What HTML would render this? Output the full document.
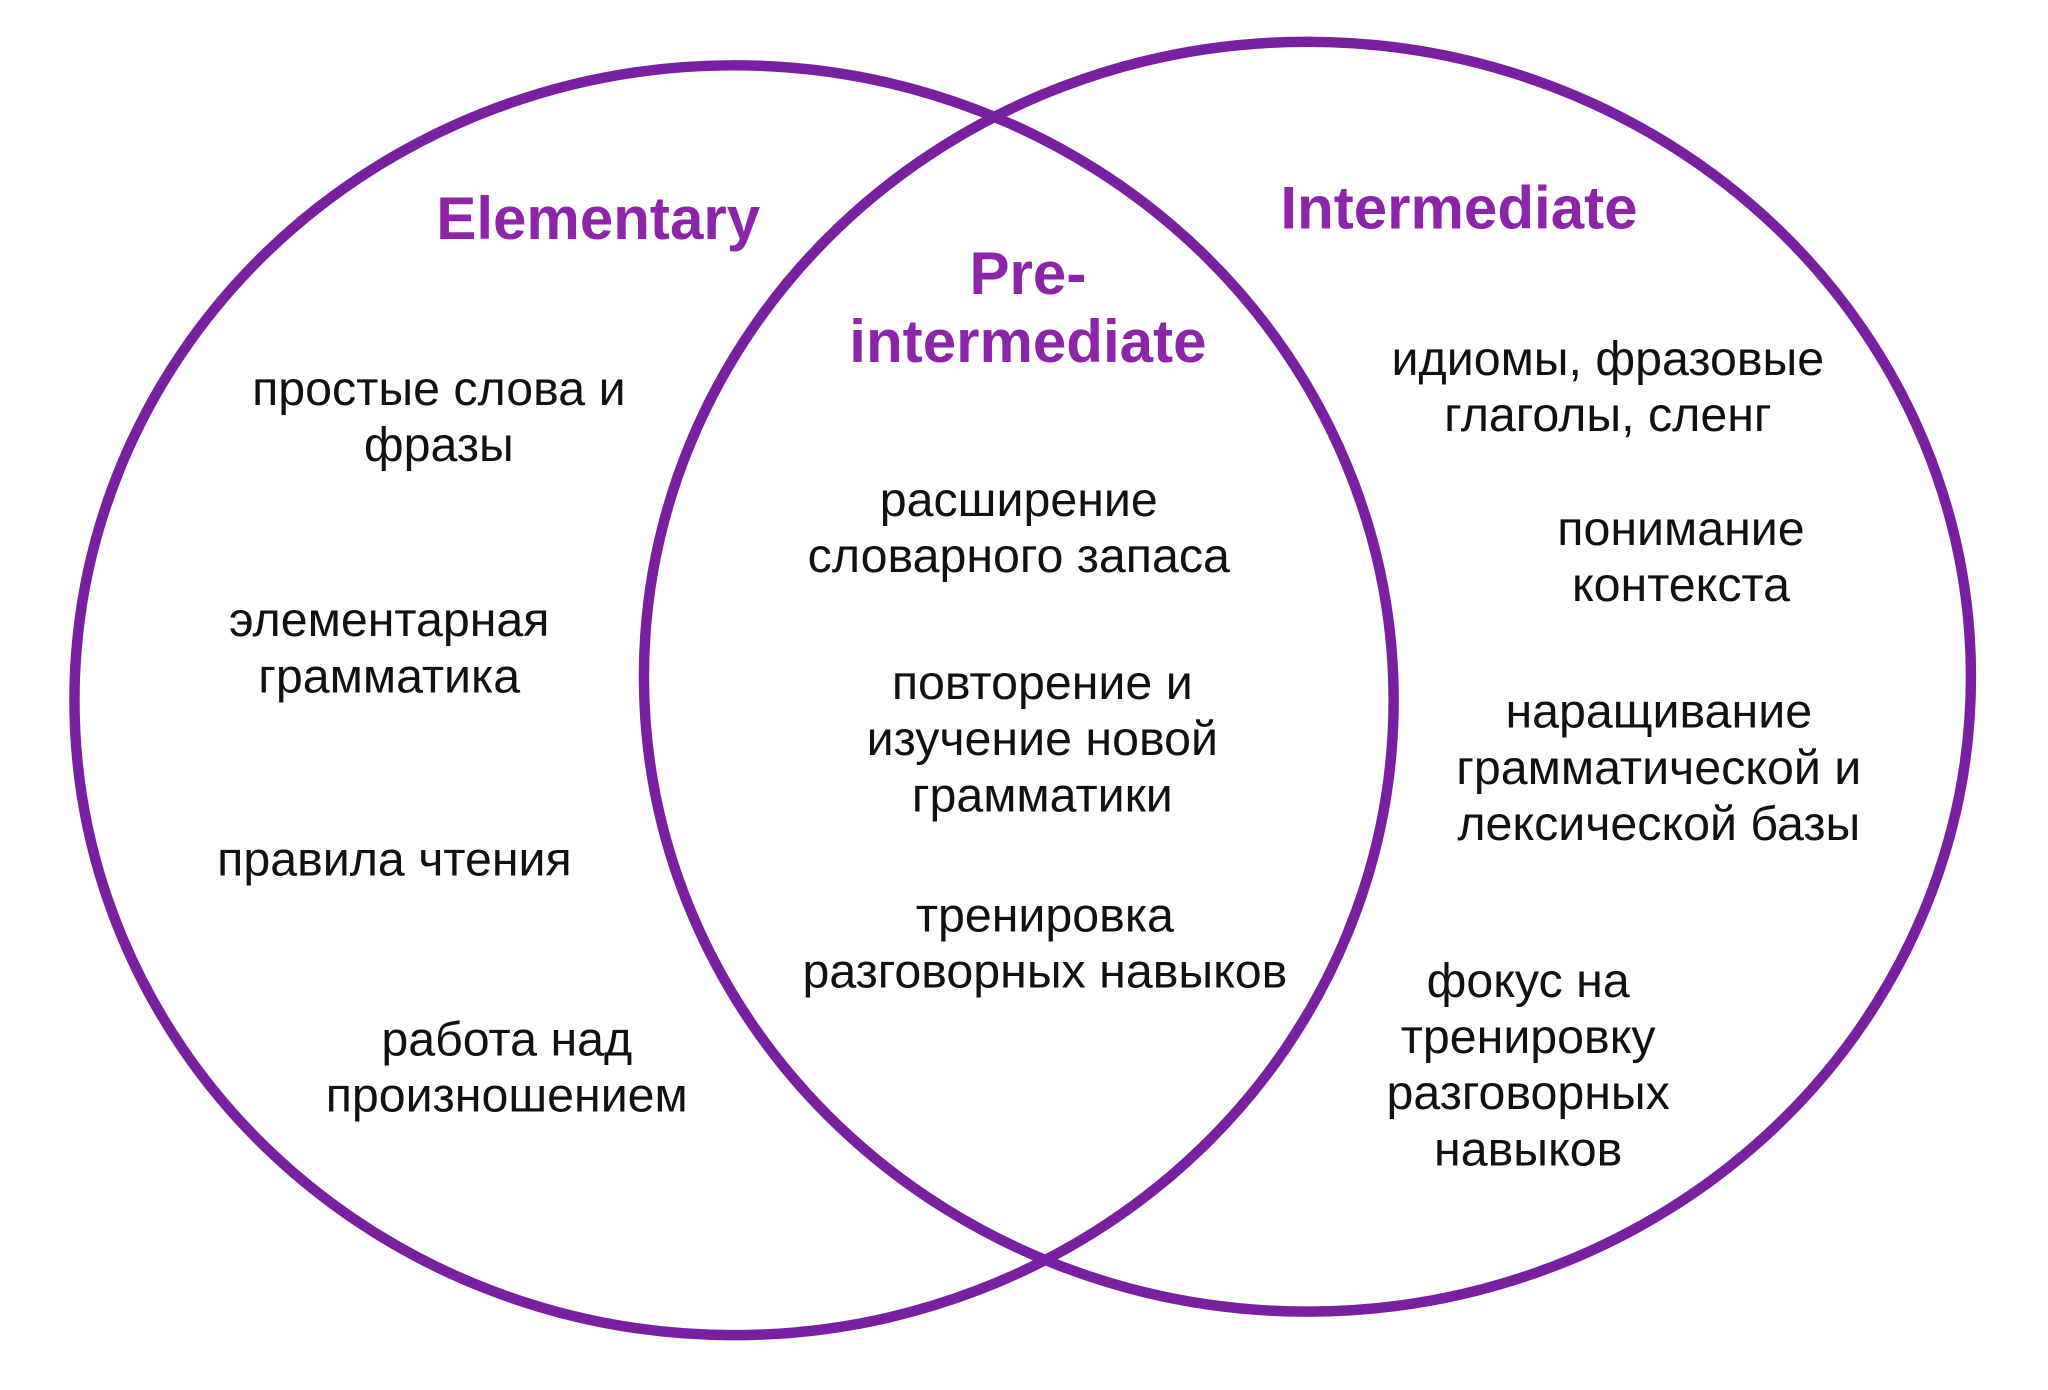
<!DOCTYPE html>
<html><head><meta charset="utf-8"><style>
html,body{margin:0;padding:0;background:#fff;}
svg{display:block;}
text{font-family:"Liberation Sans","DejaVu Sans",sans-serif;}
.b{font-size:37px;fill:#111;text-anchor:middle;}
.t{font-size:46px;font-weight:bold;fill:#8e24aa;text-anchor:middle;}
</style></head><body>
<svg width="2048" height="1390" viewBox="0 0 1568 1064" preserveAspectRatio="none" xmlns="http://www.w3.org/2000/svg">
<rect width="1568" height="1064" fill="#fff"/>
<ellipse cx="562" cy="536" rx="505" ry="486" fill="none" stroke="#7b1fa2" stroke-width="8"/>
<ellipse cx="1001" cy="518" rx="508" ry="486" fill="none" stroke="#7b1fa2" stroke-width="8"/>
<text class="t" x="458" y="183">Elementary</text>
<text class="t" x="1117" y="175">Intermediate</text>
<text class="t" x="787" y="225">Pre-</text>
<text class="t" x="787" y="277">intermediate</text>
<text class="b" x="336" y="310">простые слова и</text>
<text class="b" x="336" y="353">фразы</text>
<text class="b" x="298" y="487">элементарная</text>
<text class="b" x="298" y="530">грамматика</text>
<text class="b" x="302" y="670">правила чтения</text>
<text class="b" x="388" y="808">работа над</text>
<text class="b" x="388" y="851">произношением</text>
<text class="b" x="780" y="395">расширение</text>
<text class="b" x="780" y="438">словарного запаса</text>
<text class="b" x="798" y="535">повторение и</text>
<text class="b" x="798" y="578">изучение новой</text>
<text class="b" x="798" y="621">грамматики</text>
<text class="b" x="800" y="713">тренировка</text>
<text class="b" x="800" y="756">разговорных навыков</text>
<text class="b" x="1231" y="287">идиомы, фразовые</text>
<text class="b" x="1231" y="330">глаголы, сленг</text>
<text class="b" x="1287" y="417">понимание</text>
<text class="b" x="1287" y="460">контекста</text>
<text class="b" x="1270" y="557">наращивание</text>
<text class="b" x="1270" y="600">грамматической и</text>
<text class="b" x="1270" y="643">лексической базы</text>
<text class="b" x="1170" y="763">фокус на</text>
<text class="b" x="1170" y="806">тренировку</text>
<text class="b" x="1170" y="849">разговорных</text>
<text class="b" x="1170" y="892">навыков</text>
</svg>
</body></html>
